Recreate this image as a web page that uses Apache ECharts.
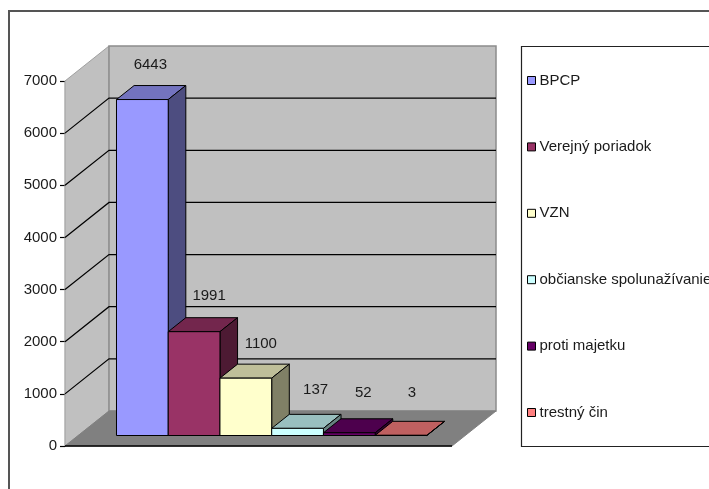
<!DOCTYPE html>
<html>
<head>
<meta charset="utf-8">
<style>
  html, body { margin: 0; padding: 0; background: #fff; }
  #chart { width: 709px; height: 489px; overflow: hidden; }
</style>
<script src="https://cdn.jsdelivr.net/npm/echarts@6/dist/echarts.min.js"></script>
</head>
<body>
<div id="chart"></div>
<script>
const seriesNames = ['BPCP', 'Verejný poriadok', 'VZN', 'občianske spolunažívanie', 'proti majetku', 'trestný čin']
const seriesValues = [6443, 1991, 1100, 137, 52, 3]
const seriesColors = ['#9999FF', '#993366', '#FFFFCC', '#CCFFFF', '#660066', '#FF8080']
const gridTicks = [1000, 2000, 3000, 4000, 5000, 6000]
const axisMax = 7000

// excel style 3d: the box is pushed back by this many px
const DEPTH_X = 44
const DEPTH_Y = -35
const BAR_DEPTH_X = 17.6
const BAR_DEPTH_Y = -14
const GAP_UNITS = 1.48
// the labels don't sit at one fixed spot over the bars
const labelNudge = [[8, -35], [15, -36], [15, -34], [18, -38], [14, -40], [11, -42]]

const FONT = 'Liberation Sans, Arial, sans-serif'
const TEXT_COLOR = '#1a1a1a'

const shade = (hex, f) => {
  const n = parseInt(hex.slice(1), 16)
  const c = [n >> 16, (n >> 8) & 255, n & 255].map(v => Math.round(v * f))
  return `rgb(${c.join(',')})`
}

const renderBox = (params, api) => {
  const center = api.coord([0, 0])
  const band = api.size([1, 0])[0]
  const x0 = center[0] - band / 2
  const x1 = center[0] + band / 2
  const yb = center[1]
  const yt = api.coord([0, axisMax])[1]
  const poly = (points, fill, stroke, lineWidth) => ({
    type: 'polygon',
    shape: { points },
    style: { fill, stroke, lineWidth: lineWidth || 1 },
  })
  const line = (points, stroke, lineWidth) => ({
    type: 'polyline',
    shape: { points },
    style: { fill: null, stroke, lineWidth },
  })
  const children = [
    poly([[x0, yb], [x0 + DEPTH_X, yb + DEPTH_Y], [x0 + DEPTH_X, yt + DEPTH_Y], [x0, yt]], '#C0C0C0', '#A0A0A0'),
    poly([[x0 + DEPTH_X, yt + DEPTH_Y], [x1 + DEPTH_X, yt + DEPTH_Y], [x1 + DEPTH_X, yb + DEPTH_Y], [x0 + DEPTH_X, yb + DEPTH_Y]], '#C0C0C0', '#8C8C8C', 1.5),
    poly([[x0, yb], [x1, yb], [x1 + DEPTH_X, yb + DEPTH_Y], [x0 + DEPTH_X, yb + DEPTH_Y]], '#808080', '#808080'),
    line([[x0, yb], [x1, yb]], '#000', 1.5),
  ]
  gridTicks.forEach((tick) => {
    const y = api.coord([0, tick])[1]
    children.push(line([[x0, y], [x0 + DEPTH_X, y + DEPTH_Y], [x1 + DEPTH_X, y + DEPTH_Y]], '#000', 1.2))
  })
  return { type: 'group', children }
}

const renderBar = (index) => (params, api) => {
  const value = api.value(1)
  const center = api.coord([0, 0])
  const band = api.size([1, 0])[0]
  const barWidth = band / (seriesValues.length + GAP_UNITS)
  const left = center[0] + (DEPTH_X - BAR_DEPTH_X) / 2 + (index - seriesValues.length / 2) * barWidth
  const right = left + barWidth
  const base = center[1] + (DEPTH_Y - BAR_DEPTH_Y) / 2
  const top = base + (api.coord([0, value])[1] - center[1])
  const color = seriesColors[index]
  const face = (points, fill) => ({
    type: 'polygon',
    shape: { points },
    style: { fill, stroke: '#000', lineWidth: 1 },
  })
  return {
    type: 'group',
    children: [
      face([[left, top], [right, top], [right + BAR_DEPTH_X, top + BAR_DEPTH_Y], [left + BAR_DEPTH_X, top + BAR_DEPTH_Y]], shade(color, 0.75)),
      face([[right, base], [right, top], [right + BAR_DEPTH_X, top + BAR_DEPTH_Y], [right + BAR_DEPTH_X, base + BAR_DEPTH_Y]], shade(color, 0.5)),
      face([[left, base], [right, base], [right, top], [left, top]], color),
      {
        type: 'text',
        z2: 100,
        style: {
          text: String(value),
          x: (left + right) / 2 + labelNudge[index][0],
          y: top + labelNudge[index][1],
          textAlign: 'center',
          textVerticalAlign: 'middle',
          fill: TEXT_COLOR,
          fontFamily: FONT,
          fontSize: 15,
        },
      },
    ],
  }
}

const chart = echarts.init(document.getElementById('chart'))

chart.setOption({
  animation: false,
  backgroundColor: '#fff',
  graphic: [
    { type: 'rect', silent: true, shape: { x: 9, y: 11, width: 900, height: 700 }, style: { fill: null, stroke: '#555', lineWidth: 2 } },
    { type: 'rect', silent: true, shape: { x: 521.5, y: 46.5, width: 400, height: 400 }, style: { fill: null, stroke: '#222', lineWidth: 1.2 } },
  ],
  grid: { left: 65, top: 81, width: 387, height: 365 },
  xAxis: {
    type: 'category',
    data: [''],
    axisLine: { show: false },
    axisTick: { show: false },
    axisLabel: { show: false },
  },
  yAxis: {
    type: 'value',
    min: 0,
    max: axisMax,
    interval: 1000,
    splitLine: { show: false },
    axisLine: { show: true, lineStyle: { color: '#000', width: 1.2 } },
    axisTick: { show: true, length: 5, lineStyle: { color: '#000', width: 1.2 } },
    axisLabel: { color: TEXT_COLOR, fontFamily: FONT, fontSize: 15, margin: 8, formatter: v => String(v) },
  },
  legend: {
    orient: 'vertical',
    left: 527,
    top: 73,
    padding: 0,
    itemWidth: 8,
    itemHeight: 8,
    itemGap: 51.4,
    icon: 'rect',
    selectedMode: false,
    data: seriesNames,
    itemStyle: { borderColor: '#000', borderWidth: 1 },
    textStyle: { color: TEXT_COLOR, fontFamily: FONT, fontSize: 15, padding: [0, 0, 0, -1] },
  },
  series: [
    { type: 'custom', name: 'box', silent: true, z: 1, renderItem: renderBox, data: [[0, 0]] },
    ...seriesNames.map((name, i) => ({
      type: 'custom',
      name,
      silent: true,
      z: 2 + i,
      renderItem: renderBar(i),
      itemStyle: { color: seriesColors[i] },
      data: [[0, seriesValues[i]]],
    })),
  ],
})
</script>
</body>
</html>
